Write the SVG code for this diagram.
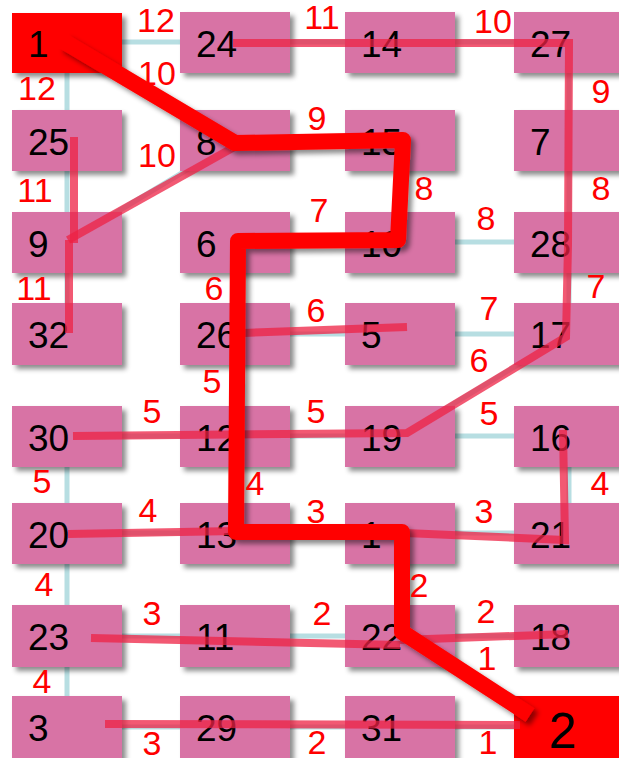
<svg xmlns="http://www.w3.org/2000/svg" width="619" height="758" viewBox="0 0 619 758">
<defs>
<filter id="sh" x="-20%" y="-20%" width="140%" height="150%">
<feDropShadow dx="4" dy="4" stdDeviation="2.5" flood-color="#000" flood-opacity="0.45"/>
</filter>
<style>
.e{stroke:#B7DEE2;stroke-width:5;fill:none}
.b{fill:#D873A5;filter:url(#sh)}
.t{fill:#FF0000;filter:url(#sh)}
.n{font-family:"Liberation Sans",Arial,sans-serif;font-size:37px;fill:#000}
.l{font-family:"Liberation Sans",Arial,sans-serif;font-size:34px;fill:#FF0000;text-anchor:middle}
.p{stroke:#EE2244;stroke-width:8;fill:none;opacity:0.75;stroke-linejoin:miter}
.q{stroke:#FF0000;stroke-width:16;fill:none;stroke-linejoin:round;stroke-linecap:butt}
</style>
</defs>
<rect width="619" height="758" fill="#fff"/>
<g id="edges">
<path class="e" d="M67,42H569M67,42V334M67,242L235,141M67,42L235,140H400V242H569M400,242H235V533H400H569M569,42V334M235,334H569M569,334L400,436M67,436H569V533M67,436V727M67,533H235M400,533V636M67,636H569M400,636L569,727M67,727H569"/>
</g>
<g id="n1"><rect class="t" x="12" y="13" width="110" height="60"/><text class="n" x="28" y="57">1</text></g>
<g id="n24"><rect class="b" x="180" y="12" width="110" height="61"/><text class="n" x="196" y="57">24</text></g>
<g id="n14"><rect class="b" x="345" y="12" width="110" height="61"/><text class="n" x="361" y="57">14</text></g>
<g id="n27"><rect class="b" x="514" y="12" width="110" height="61"/><text class="n" x="530" y="57">27</text></g>
<g id="n25"><rect class="b" x="12" y="110" width="110" height="61"/><text class="n" x="28" y="155">25</text></g>
<g id="n8"><rect class="b" x="180" y="110" width="110" height="61"/><text class="n" x="196" y="155">8</text></g>
<g id="n15"><rect class="b" x="345" y="110" width="110" height="61"/><text class="n" x="361" y="155">15</text></g>
<g id="n7"><rect class="b" x="514" y="110" width="110" height="61"/><text class="n" x="530" y="155">7</text></g>
<g id="n9"><rect class="b" x="12" y="212" width="110" height="61"/><text class="n" x="28" y="257">9</text></g>
<g id="n6"><rect class="b" x="180" y="212" width="110" height="61"/><text class="n" x="196" y="257">6</text></g>
<g id="n10"><rect class="b" x="345" y="212" width="110" height="61"/><text class="n" x="361" y="257">10</text></g>
<g id="n28"><rect class="b" x="514" y="212" width="110" height="61"/><text class="n" x="530" y="257">28</text></g>
<g id="n32"><rect class="b" x="12" y="303" width="110" height="62"/><text class="n" x="28" y="348">32</text></g>
<g id="n26"><rect class="b" x="180" y="303" width="110" height="62"/><text class="n" x="196" y="348">26</text></g>
<g id="n5"><rect class="b" x="345" y="303" width="110" height="62"/><text class="n" x="361" y="348">5</text></g>
<g id="n17"><rect class="b" x="514" y="303" width="110" height="62"/><text class="n" x="530" y="348">17</text></g>
<g id="n30"><rect class="b" x="12" y="406" width="110" height="61"/><text class="n" x="28" y="451">30</text></g>
<g id="n12"><rect class="b" x="180" y="406" width="110" height="61"/><text class="n" x="196" y="451">12</text></g>
<g id="n19"><rect class="b" x="345" y="406" width="110" height="61"/><text class="n" x="361" y="451">19</text></g>
<g id="n16"><rect class="b" x="514" y="406" width="110" height="61"/><text class="n" x="530" y="451">16</text></g>
<g id="n20"><rect class="b" x="12" y="503" width="110" height="61"/><text class="n" x="28" y="548">20</text></g>
<g id="n13"><rect class="b" x="180" y="503" width="110" height="61"/><text class="n" x="196" y="548">13</text></g>
<g id="n1b"><rect class="b" x="345" y="503" width="110" height="61"/><text class="n" x="361" y="548">1</text></g>
<g id="n21"><rect class="b" x="514" y="503" width="110" height="61"/><text class="n" x="530" y="548">21</text></g>
<g id="n23"><rect class="b" x="12" y="605" width="110" height="62"/><text class="n" x="28" y="650">23</text></g>
<g id="n11"><rect class="b" x="180" y="605" width="110" height="62"/><text class="n" x="196" y="650">11</text></g>
<g id="n22"><rect class="b" x="345" y="605" width="110" height="62"/><text class="n" x="361" y="650">22</text></g>
<g id="n18"><rect class="b" x="514" y="605" width="110" height="62"/><text class="n" x="530" y="650">18</text></g>
<g id="n3"><rect class="b" x="12" y="696" width="110" height="66"/><text class="n" x="28" y="741">3</text></g>
<g id="n29"><rect class="b" x="180" y="696" width="110" height="66"/><text class="n" x="196" y="741">29</text></g>
<g id="n31"><rect class="b" x="345" y="696" width="110" height="66"/><text class="n" x="361" y="741">31</text></g>
<g id="n2"><rect class="t" x="514" y="696" width="110" height="66"/><text class="n" x="549" y="748" style="font-size:50px">2</text></g>
<g id="paths">
<path class="p" d="M233,43L569,43L568,245L566,337L407,433L73,436"/>
<path class="p" d="M74,137L74,243"/>
<path class="p" d="M68,240L236,146"/>
<path class="p" d="M69,240L69,333"/>
<path class="p" d="M243,333L407,327"/>
<path class="p" d="M68,534L236,531"/>
<path class="p" d="M405,533L565,540L563,430"/>
<path class="p" d="M91,638L400,645"/>
<path class="p" d="M400,640L568,634"/>
<path class="p" d="M105,724L520,725"/>
<path class="q" filter="url(#sh)" d="M63,41L235,143L403,140L398,240L238,241L236,532L402,532L402,632L530,715"/>
</g>
<g id="labels">
<text class="l" x="156" y="32">12</text>
<text class="l" x="37" y="100">12</text>
<text class="l" x="157" y="85">10</text>
<text class="l" x="157" y="167">10</text>
<text class="l" x="35" y="202">11</text>
<text class="l" x="34" y="300">11</text>
<text class="l" x="322" y="29">11</text>
<text class="l" x="493" y="33">10</text>
<text class="l" x="601" y="103">9</text>
<text class="l" x="317" y="130">9</text>
<text class="l" x="601" y="200">8</text>
<text class="l" x="424" y="200">8</text>
<text class="l" x="319" y="222">7</text>
<text class="l" x="486" y="230">8</text>
<text class="l" x="596" y="298">7</text>
<text class="l" x="489" y="320">7</text>
<text class="l" x="316" y="322">6</text>
<text class="l" x="479" y="372">6</text>
<text class="l" x="214" y="300">6</text>
<text class="l" x="212" y="393">5</text>
<text class="l" x="152" y="423">5</text>
<text class="l" x="316" y="423">5</text>
<text class="l" x="489" y="425">5</text>
<text class="l" x="42" y="493">5</text>
<text class="l" x="44" y="596">4</text>
<text class="l" x="42" y="693">4</text>
<text class="l" x="148" y="522">4</text>
<text class="l" x="255" y="495">4</text>
<text class="l" x="316" y="523">3</text>
<text class="l" x="484" y="523">3</text>
<text class="l" x="600" y="495">4</text>
<text class="l" x="419" y="597">2</text>
<text class="l" x="322" y="625">2</text>
<text class="l" x="486" y="623">2</text>
<text class="l" x="487" y="670">1</text>
<text class="l" x="152" y="625">3</text>
<text class="l" x="152" y="755">3</text>
<text class="l" x="317" y="754">2</text>
<text class="l" x="488" y="754">1</text>
</g>
</svg>
